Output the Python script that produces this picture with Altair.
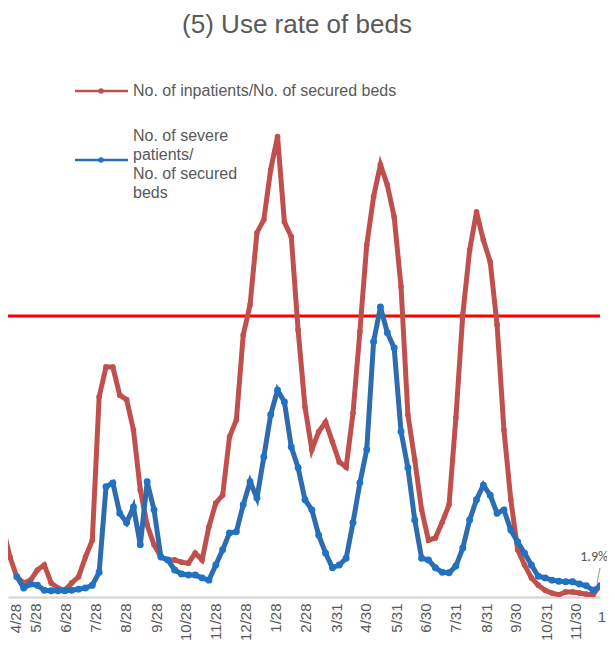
import altair as alt
import pandas as pd
from datetime import date, timedelta

# ---- data (percent) ----
first_week = date(2020, 4, 25)
n_weeks = 88

inpatients = [
    12.3, 7.1, 3.6, 2.5, 3.0, 4.8, 5.7, 2.5, 1.6, 1.2,
    2.5, 3.6, 7.1, 10.1, 35.6, 40.9, 40.9, 35.9, 35.1, 29.7,
    19.0, 12.8, 9.3, 7.1, 6.6, 6.6, 6.2, 6.0, 7.8, 6.6,
    12.5, 16.7, 18.1, 28.5, 31.5, 46.6, 52.0, 64.8, 67.1, 76.0,
    81.9, 66.7, 64.1, 47.5, 33.8, 26.2, 29.4, 31.1, 27.6, 24.0,
    23.1, 32.7, 47.2, 62.6, 71.2, 76.9, 73.3, 67.6, 55.2, 32.4,
    24.4, 15.5, 10.1, 10.5, 13.3, 16.4, 31.9, 50.2, 61.7, 68.5,
    63.5, 59.6, 48.4, 29.7, 17.3, 8.4, 5.7, 3.4, 2.1, 1.2,
    0.7, 0.4, 0.9, 0.9, 0.7, 0.5, 0.4, 2.1,
]

severe = [
    None, None, 3.6, 1.6, 2.3, 2.1, 1.2, 1.1, 1.1, 1.1,
    1.2, 1.4, 1.6, 2.1, 4.4, 19.6, 20.3, 14.9, 13.2, 16.0,
    9.3, 20.5, 15.5, 7.1, 6.6, 4.8, 4.1, 3.9, 3.9, 3.4,
    3.0, 5.7, 8.4, 11.4, 11.6, 16.4, 20.5, 17.6, 24.9, 32.4,
    36.8, 34.7, 26.7, 23.0, 17.3, 15.5, 11.0, 7.8, 5.2, 5.7,
    6.9, 13.2, 20.3, 26.2, 45.4, 51.6, 47.0, 44.3, 29.4, 23.0,
    13.7, 6.9, 6.6, 5.2, 4.4, 4.3, 5.5, 8.7, 13.7, 17.3,
    19.9, 18.1, 14.9, 15.5, 11.9, 9.8, 7.8, 5.7, 3.7, 3.4,
    3.0, 2.8, 2.7, 2.7, 2.3, 2.0, 1.2, 1.9,
]

tick_labels = [
    (2020, 5, 28), (2020, 6, 28), (2020, 7, 28), (2020, 8, 28),
    (2020, 9, 28), (2020, 10, 28), (2020, 11, 28), (2020, 12, 28),
    (2021, 1, 28), (2021, 2, 28), (2021, 3, 31), (2021, 4, 30), (2021, 5, 31),
    (2021, 6, 30), (2021, 7, 31), (2021, 8, 31), (2021, 9, 30), (2021, 10, 31),
    (2021, 11, 30),
]
first_tick_label = "4/28"   # sits at the very left edge of the plot

threshold = 50
title_text = "(5) Use rate of beds"
last_label = "1.9%"
series_names = ["No. of inpatients/No. of secured beds",
                "No. of severe\npatients/\nNo. of secured\nbeds"]

RED = "#C0504D"
BLUE_LINE = "#2E6CAF"
BLUE_PT = "#1F72C4"
GRAY = "#595959"
FONT = "Liberation Sans"

dates = [(first_week + timedelta(days=7 * i)).isoformat() for i in range(n_weeks)]
df_red = pd.DataFrame({"date": dates, "value": inpatients})
df_blue = pd.DataFrame({"date": dates, "value": severe}).dropna()

x_scale = alt.Scale(
    type="utc",
    domain=[alt.DateTime(year=2020, month=4, date=30, utc=True),
            alt.DateTime(year=2021, month=12, date=25, utc=True)],
)
x_axis = alt.Axis(
    values=[alt.DateTime(year=y, month=m, date=d, utc=True) for y, m, d in tick_labels],
    format="%-m/%-d",
    labelAngle=-90,
    labelFont=FONT,
    labelFontSize=15,
    labelColor=GRAY,
    labelPadding=6,
    ticks=False,
    grid=False,
    domainColor="#D9D9D9",
    domainWidth=2.5,
    title=None,
    labelOverlap=False,
)
y_scale = alt.Scale(domain=[0, 90])

x_enc = alt.X("date:T", scale=x_scale, axis=x_axis)
y_enc = alt.Y("value:Q", scale=y_scale, axis=None)

red_line = alt.Chart(df_red).mark_line(
    color=RED, strokeWidth=5, clip=True,
    point=alt.OverlayMarkDef(filled=True, size=32, color=RED),
).encode(x=x_enc, y=y_enc)

blue_line = alt.Chart(df_blue).mark_line(
    color=BLUE_LINE, strokeWidth=5, clip=True,
    point=alt.OverlayMarkDef(filled=True, size=48, color=BLUE_PT),
).encode(x=x_enc, y=y_enc)

thr = alt.Chart(pd.DataFrame({"t": [threshold]})).mark_rule(
    color="#FF0000", strokeWidth=3
).encode(y=alt.Y("t:Q", scale=y_scale, axis=None))

# first tick label (left edge)
first_lab = alt.Chart(pd.DataFrame({"lab": [first_tick_label]})).mark_text(
    font=FONT, fontSize=15, color=GRAY, angle=270, align="right", baseline="middle"
).encode(x=alt.value(8), y=alt.value(513), text="lab:N")

# end label
end_df = pd.DataFrame({"date": [dates[-1]], "value": [severe[-1]], "lab": [last_label]})
end_text = alt.Chart(end_df).mark_text(
    font="Calibri, Carlito, Liberation Sans", fontSize=14, color=GRAY,
    align="right", baseline="middle", dx=8, dy=-29,
).encode(x=x_enc, y=y_enc, text="lab:N")
end_leader = alt.Chart(end_df).mark_rule(color="#A6A6A6", strokeWidth=1.2).encode(
    x=alt.value(592), x2=alt.value(589), y=alt.value(477), y2=alt.value(492)
)
edge_text = alt.Chart(pd.DataFrame({"lab": ["1"]})).mark_text(
    font=FONT, fontSize=15, color=GRAY, align="right", baseline="middle"
).encode(x=alt.value(598), y=alt.value(526), text="lab:N")

# title as a text mark
title_mark = alt.Chart(pd.DataFrame({"lab": [title_text]})).mark_text(
    font=FONT, fontSize=26, color=GRAY, align="center", baseline="middle"
).encode(x=alt.value(289), y=alt.value(-66), text="lab:N")

# custom legend
leg_red = pd.DataFrame({"lab": [series_names[0]]})
leg_blue = pd.DataFrame({"lab": [series_names[1]]})
lr_rule = alt.Chart(leg_red).mark_rule(color=RED, strokeWidth=2.5).encode(
    x=alt.value(67), x2=alt.value(120), y=alt.value(0))
lr_pt = alt.Chart(leg_red).mark_point(filled=True, size=30, color=RED, opacity=1).encode(
    x=alt.value(93), y=alt.value(0))
lr_txt = alt.Chart(leg_red).mark_text(
    font=FONT, fontSize=16, color=GRAY, align="left", baseline="middle"
).encode(x=alt.value(125), y=alt.value(0), text="lab:N")
lb_rule = alt.Chart(leg_blue).mark_rule(color=BLUE_LINE, strokeWidth=2.5).encode(
    x=alt.value(67), x2=alt.value(120), y=alt.value(69))
lb_pt = alt.Chart(leg_blue).mark_point(filled=True, size=30, color=BLUE_PT, opacity=1).encode(
    x=alt.value(93), y=alt.value(69))
lb_txt = alt.Chart(leg_blue).mark_text(
    font=FONT, fontSize=16, color=GRAY, align="left", baseline="top",
    lineBreak="\n", lineHeight=19,
).encode(x=alt.value(125), y=alt.value(37), text="lab:N")

chart = alt.layer(
    thr, red_line, blue_line, end_leader, end_text, edge_text, first_lab, title_mark,
    lr_rule, lr_pt, lr_txt, lb_rule, lb_pt, lb_txt,
).properties(
    width=592,
    height=506,
    autosize=alt.AutoSizeParams(type="none"),
    padding={"left": 0, "top": 83, "right": 7, "bottom": 57},
).configure_view(stroke=None)

chart.save("out.html", embed_options={"renderer": "svg", "actions": False})
